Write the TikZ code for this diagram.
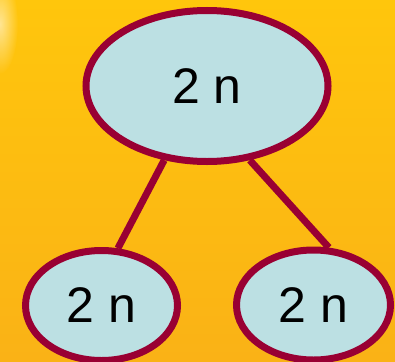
\documentclass[tikz,border=0pt]{standalone}
\usepackage{fontspec}
\setmainfont{Liberation Sans}
\usepackage{tikz}
\usetikzlibrary{shapes.geometric,backgrounds,fadings}

\definecolor{bgtop}{RGB}{255,198,12}
\definecolor{bgbot}{RGB}{250,178,22}
\definecolor{rim}{RGB}{153,0,51}
\definecolor{ice}{RGB}{188,224,227}

\tikzfading[name=glare, inner color=transparent!0, outer color=transparent!100]

\begin{document}
\begin{tikzpicture}[x=1pt, y=-1pt,
    knot/.style={ellipse, draw=rim, fill=ice, line width=7pt, inner sep=0pt,
                 font=\fontsize{50}{60}\selectfont},
    edge/.style={draw=rim, line width=7pt}]

  \useasboundingbox (0,0) rectangle (395,361);

  \begin{scope}[on background layer]
    \shade[top color=bgtop, bottom color=bgbot] (0,0) rectangle (395,361);
    \fill[white, opacity=0.55, path fading=glare] (0,24) ellipse [x radius=18pt, y radius=50pt];
  \end{scope}

  \node[knot, minimum width=242pt, minimum height=151pt] (root) at (207,86) {2 n};
  \node[knot, minimum width=152pt, minimum height=110pt] (kidL) at (101.5,305.5) {2 n};
  \node[knot, minimum width=154pt, minimum height=110pt] (kidR) at (313.5,305) {2 n};

  \begin{scope}[on background layer]
    \draw[edge] (root.240) -- (kidL.74); %% root->left
    \draw[edge] (root.300) -- (kidR.75); %% root->right
  \end{scope}

\end{tikzpicture}
\end{document}
